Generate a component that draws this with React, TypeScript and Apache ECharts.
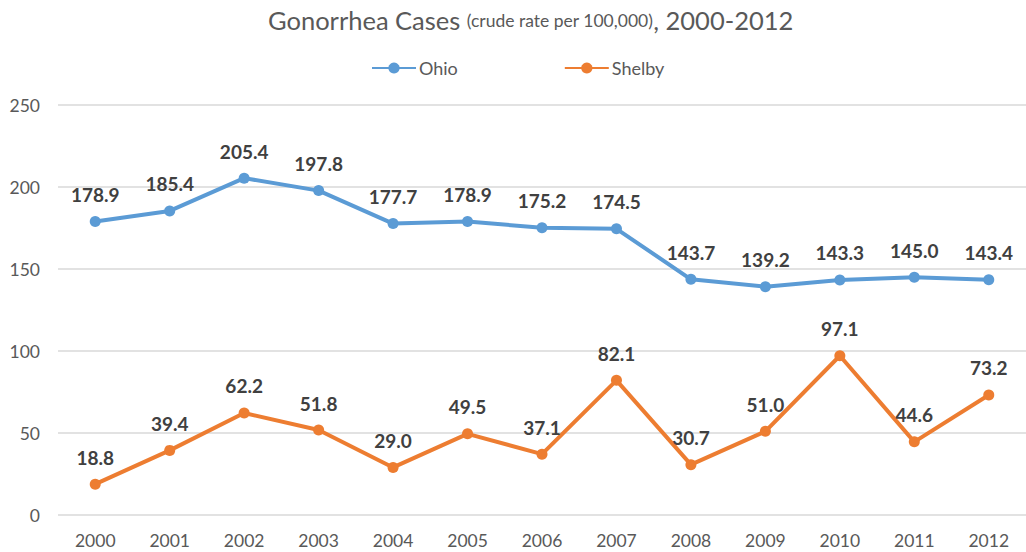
import React, { useEffect, useRef } from "react";
import * as echarts from "echarts";

const years = ["2000","2001","2002","2003","2004","2005","2006","2007","2008","2009","2010","2011","2012"];
const ohio = [178.9,185.4,205.4,197.8,177.7,178.9,175.2,174.5,143.7,139.2,143.3,145.0,143.4];
const shelby = [18.8,39.4,62.2,51.8,29.0,49.5,37.1,82.1,30.7,51.0,97.1,44.6,73.2];

const FONT = "Lato, 'Open Sans', sans-serif";

export default function App() {
  const ref = useRef<HTMLDivElement>(null);
  useEffect(() => {
    const chart = echarts.init(ref.current!, null, { renderer: "svg" });
    const label = {
      show: true,
      position: "top" as const,
      distance: 12,
      fontSize: 19,
      fontWeight: "bold" as const,
      color: "#404040",
      fontFamily: FONT,
      formatter: (p: any) => Number(p.value).toFixed(1),
    };
    chart.setOption({
      animation: false,
      backgroundColor: "#fff",
      title: {
        text: "{a|Gonorrhea Cases }{b|(crude rate per 100,000)}{a|, 2000-2012}",
        left: 263,
        top: 2,
        textStyle: {
          fontWeight: "normal",
          rich: {
            a: { fontSize: 25.5, color: "#595959", fontFamily: FONT, fontWeight: "normal" },
            b: { fontSize: 17.5, color: "#595959", fontFamily: FONT, fontWeight: "normal" },
          },
        },
      },
      legend: {
        top: 54,
        left: 366,
        itemGap: 106,
        itemWidth: 44,
        itemHeight: 14,
        textStyle: { fontSize: 18, color: "#595959", fontFamily: FONT, padding: [0, 0, 0, -2] },
        data: ["Ohio", "Shelby"],
      },
      grid: { left: 58, top: 105, width: 976, bottom: 37 },
      xAxis: {
        type: "category",
        data: years,
        boundaryGap: true,
        axisLine: { show: false },
        axisTick: { show: false },
        axisLabel: { fontSize: 17.5, color: "#595959", fontFamily: FONT, margin: 16 },
      },
      yAxis: {
        type: "value",
        min: 0,
        max: 250,
        interval: 50,
        axisLabel: { fontSize: 17.5, color: "#595959", fontFamily: FONT, margin: 18 },
        splitLine: { lineStyle: { color: "#d9d9d9", width: 1.5 } },
      },
      series: [
        {
          name: "Ohio",
          type: "line",
          data: ohio,
          symbol: "circle",
          symbolSize: 11,
          color: "#5B9BD5",
          lineStyle: { width: 4, color: "#5B9BD5" },
          label,
        },
        {
          name: "Shelby",
          type: "line",
          data: shelby,
          symbol: "circle",
          symbolSize: 11,
          color: "#ED7D31",
          lineStyle: { width: 4, color: "#ED7D31" },
          label,
        },
      ],
    });
    return () => chart.dispose();
  }, []);
  return (
    <div
      ref={ref}
      style={{ position: "fixed", left: 0, top: 0, width: 1026, height: 552, background: "#fff" }}
    />
  );
}
